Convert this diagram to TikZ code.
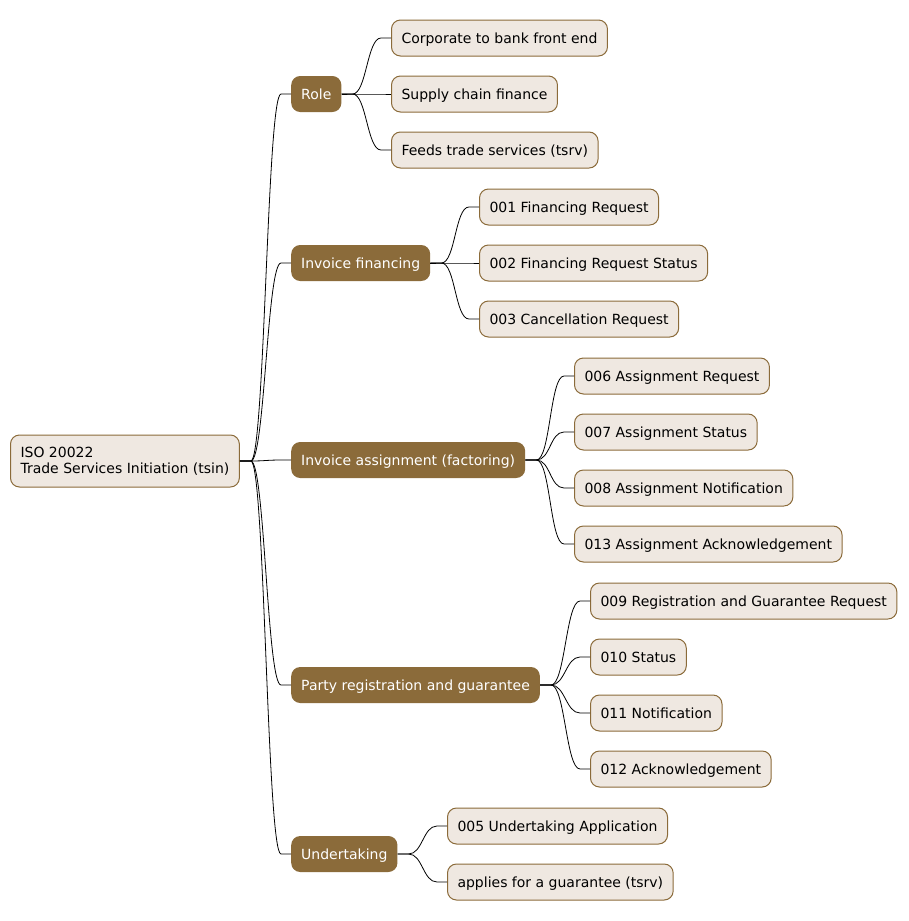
\documentclass[tikz,border=0pt]{standalone}
\usepackage{fontspec}
\setmainfont{DejaVu Sans}
\definecolor{mmdark}{HTML}{8B6B3A}
\definecolor{mmlight}{HTML}{EFE8E1}
\tikzset{
    mmbox/.style={rectangle, rounded corners=9pt, anchor=west, inner xsep=10pt,
                  font=\fontsize{14}{16}\selectfont},
    rootbox/.style={mmbox, draw=mmdark, fill=mmlight, line width=1pt, align=left, minimum height=52pt},
    topic/.style={mmbox, fill=mmdark, text=white, minimum height=36pt, text height=12.6pt, text depth=2pt},
    leaf/.style={mmbox, draw=mmdark, fill=mmlight, line width=1pt, minimum height=36pt, text height=12.6pt, text depth=2pt},
    link/.style={draw, black, line width=0.8pt}
}
\newcommand{\branch}[2]{%
  \draw[link] (#1.east) -- ++(11,0) .. controls +(14,0) and +(-14,0) .. ([xshift=-10pt]#2.west) -- (#2.west);}
\begin{document}
\begin{tikzpicture}[x=1pt, y=-1pt]
    \useasboundingbox (0,0) rectangle (909,921);

    \node[rootbox] (tsin) at (10, 461) {ISO 20022\\Trade Services Initiation (tsin)};

    \node[topic] (role)    at (291,  94) {Role};
    \node[topic] (invfin)  at (291, 263) {Invoice financing};
    \node[topic] (invass)  at (291, 460) {Invoice assignment (factoring)};
    \node[topic] (party)   at (291, 685) {Party registration and guarantee};
    \node[topic] (undert)  at (291, 854) {Undertaking};

    % role
    \node[leaf] (corp)   at (391,  38) {Corporate to bank front end};
    \node[leaf] (supply) at (391,  94) {Supply chain finance};
    \node[leaf] (feeds)  at (391, 150) {Feeds trade services (tsrv)};
    % invoice financing
    \node[leaf] (m001) at (479, 207) {001 Financing Request};
    \node[leaf] (m002) at (479, 263) {002 Financing Request Status};
    \node[leaf] (m003) at (479, 319) {003 Cancellation Request};
    % invoice assignment
    \node[leaf] (m006) at (574, 376) {006 Assignment Request};
    \node[leaf] (m007) at (574, 432) {007 Assignment Status};
    \node[leaf] (m008) at (574, 488) {008 Assignment Notification};
    \node[leaf] (m013) at (574, 544) {013 Assignment Acknowledgement};
    % party registration
    \node[leaf] (m009) at (590, 601) {009 Registration and Guarantee Request};
    \node[leaf] (m010) at (590, 657) {010 Status};
    \node[leaf] (m011) at (590, 713) {011 Notification};
    \node[leaf] (m012) at (590, 769) {012 Acknowledgement};
    % undertaking
    \node[leaf] (m005)    at (447, 826) {005 Undertaking Application};
    \node[leaf] (applies) at (447, 882) {applies for a guarantee (tsrv)};

    \foreach \t in {role, invfin, invass, party, undert} {\branch{tsin}{\t}}
    \foreach \c in {corp, supply, feeds} {\branch{role}{\c}}
    \foreach \c in {m001, m002, m003} {\branch{invfin}{\c}}
    \foreach \c in {m006, m007, m008, m013} {\branch{invass}{\c}}
    \foreach \c in {m009, m010, m011, m012} {\branch{party}{\c}}
    \foreach \c in {m005, applies} {\branch{undert}{\c}}
\end{tikzpicture}
\end{document}
